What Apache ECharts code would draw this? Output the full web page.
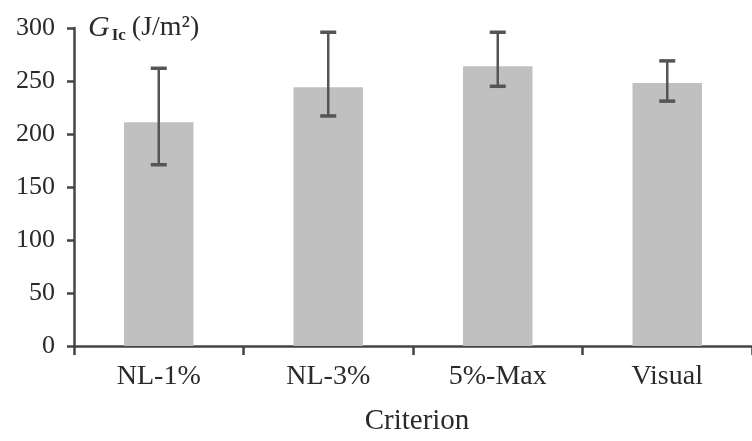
<!DOCTYPE html>
<html><head><meta charset="utf-8">
<script src="https://cdn.jsdelivr.net/npm/echarts@6/dist/echarts.min.js"></script>
<style>html,body{margin:0;padding:0;background:#fff}#c{width:752px;height:441px}</style>
</head><body><div id="c"></div>
<script>
const categories = ['NL-1%', 'NL-3%', '5%-Max', 'Visual'];
const means = [211, 244, 264, 248];
const errLow = [171, 217, 245, 231];
const errHigh = [262, 296, 296, 269];
const yTicks = [0, 50, 100, 150, 200, 250, 300];

const chart = echarts.init(document.getElementById('c'));
const F = 'Liberation Serif';
const TC = '#2a2a2a';
chart.setOption({
  animation: false,
  grid: { left: 74, right: -10, top: 28, bottom: 94 },
  xAxis: {
    type: 'category', data: categories,
    name: 'Criterion', nameLocation: 'middle', nameGap: 61,
    nameTextStyle: { fontFamily: F, fontSize: 29, color: TC, padding: [0, 0, 0, 8] },
    axisLine: { lineStyle: { color: '#444', width: 2.5 } },
    axisTick: { show: true, length: 9, lineStyle: { color: '#444', width: 2.5 } },
    axisLabel: { fontFamily: F, fontSize: 28, color: TC, margin: 17 }
  },
  yAxis: {
    type: 'value', min: 0, max: 300, interval: 50,
    name: '{g|G}{s|Ic}{n|(J/m²)}', nameLocation: 'end', nameGap: 0,
    nameTextStyle: { align: 'left', verticalAlign: 'middle', padding: [0, 0, 0, 14],
      rich: {
        g: { fontFamily: F, fontSize: 30, fontStyle: 'italic', color: TC },
        s: { fontFamily: F, fontSize: 17, fontWeight: 'bold', color: TC, verticalAlign: 'bottom', padding: [15, 6, 0, 2] },
        n: { fontFamily: F, fontSize: 28, color: TC }
      } },
    splitLine: { show: false },
    axisLine: { show: true, lineStyle: { color: '#444', width: 2.5 } },
    axisTick: { show: true, length: 7, lineStyle: { color: '#444', width: 2.5 } },
    axisLabel: { fontFamily: F, fontSize: 26, color: TC, margin: 19,
      formatter: v => yTicks.includes(v) ? String(v) : '' }
  },
  series: [
    { type: 'bar', data: means, barWidth: '41%', itemStyle: { color: '#c0c0c0' }, z: 1 },
    { type: 'custom', z: 3,
      data: categories.map((c, i) => [i, errLow[i], errHigh[i]]),
      renderItem: function (params, api) {
        const lo = api.coord([api.value(0), api.value(1)]);
        const hi = api.coord([api.value(0), api.value(2)]);
        const hw = 8;
        return { type: 'group', children: [
          { type: 'line', shape: { x1: lo[0], y1: lo[1], x2: hi[0], y2: hi[1] }, style: { stroke: '#555', lineWidth: 2.5 } },
          { type: 'line', shape: { x1: lo[0] - hw, y1: lo[1], x2: lo[0] + hw, y2: lo[1] }, style: { stroke: '#555', lineWidth: 3.5 } },
          { type: 'line', shape: { x1: hi[0] - hw, y1: hi[1], x2: hi[0] + hw, y2: hi[1] }, style: { stroke: '#555', lineWidth: 3.5 } }
        ] };
      }
    }
  ]
});
</script></body></html>
